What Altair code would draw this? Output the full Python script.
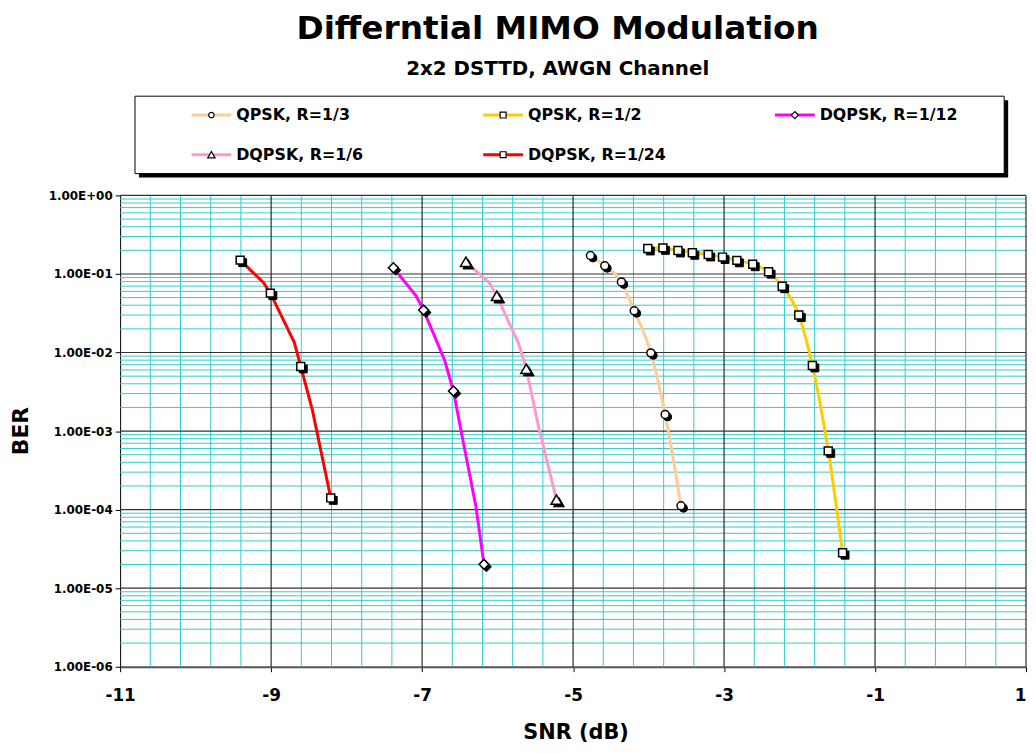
import altair as alt
import pandas as pd

# ---------------- data ----------------
series_names = ["QPSK, R=1/3", "QPSK, R=1/2", "DQPSK, R=1/12", "DQPSK, R=1/6", "DQPSK, R=1/24"]

qpsk13_snr = [-4.77, -4.58, -4.36, -4.19, -3.97, -3.78, -3.57]
qpsk13_ber = [0.172, 0.127, 0.0792, 0.034, 0.0099, 0.00163, 1.12e-4]
qpsk13_mark = [1, 1, 1, 1, 1, 1, 1]

qpsk12_snr = [-4.01, -3.81, -3.61, -3.42, -3.21, -3.02, -2.83, -2.62, -2.41, -2.23, -2.01, -1.83, -1.62, -1.43]
qpsk12_ber = [0.211, 0.215, 0.199, 0.186, 0.177, 0.164, 0.149, 0.133, 0.107, 0.0699, 0.030, 0.00685, 5.6e-4, 2.83e-5]
qpsk12_mark = [1] * 14

dqpsk112_snr = [-7.38, -7.08, -6.98, -6.70, -6.585, -6.46, -6.287, -6.18]
dqpsk112_ber = [0.120, 0.0527, 0.0347, 0.00792, 0.00324, 7.7e-4, 1.10e-4, 2.01e-5]
dqpsk112_mark = [1, 0, 1, 0, 1, 0, 0, 1]

dqpsk16_snr = [-6.42, -6.11, -6.01, -5.72, -5.62, -5.456, -5.22]
dqpsk16_ber = [0.143, 0.0776, 0.0527, 0.0129, 0.00621, 0.00113, 1.34e-4]
dqpsk16_mark = [1, 0, 1, 0, 1, 0, 1]

dqpsk124_snr = [-9.41, -9.10, -9.01, -8.693, -8.607, -8.453, -8.21]
dqpsk124_ber = [0.150, 0.0776, 0.057, 0.0135, 0.00665, 0.00185, 1.41e-4]
dqpsk124_mark = [1, 0, 1, 0, 1, 0, 1]

x_ticks = [-11, -9, -7, -5, -3, -1, 1]
y_ticks = [1e-6, 1e-5, 1e-4, 1e-3, 1e-2, 1e-1, 1]

# ---------------- styling ----------------
FONT = "DejaVu Sans"
colors = ["#FFCC99", "#FFCC00", "#FF00FF", "#FF99CC", "#FF0000"]
shapes = ["circle", "square", "diamond", "triangle-up", "square"]
msizes = [64, 64, 100, 121, 64]
lsizes = [30, 36, 50, 55, 36]
interps = ["monotone", "monotone", "linear", "linear", "linear"]

series_data = [
    (qpsk13_snr, qpsk13_ber, qpsk13_mark),
    (qpsk12_snr, qpsk12_ber, qpsk12_mark),
    (dqpsk112_snr, dqpsk112_ber, dqpsk112_mark),
    (dqpsk16_snr, dqpsk16_ber, dqpsk16_mark),
    (dqpsk124_snr, dqpsk124_ber, dqpsk124_mark),
]

W, H = 913, 475

exp_expr = "round(log(datum.value)/LN10)"
y_label_expr = ("'1.00E' + (" + exp_expr + " < 0 ? '-' : '+') + (abs(" + exp_expr +
                ") < 10 ? '0' : '') + abs(" + exp_expr + ")")

x_enc = alt.X(
    "snr:Q",
    scale=alt.Scale(domain=[-11, 1], nice=False, zero=False),
    axis=alt.Axis(
        values=x_ticks, labelExpr="'' + datum.value", grid=False,
        domainColor="#555555", domainWidth=2, tickColor="black", tickSize=5,
        labelFont=FONT, labelFontWeight="bold", labelFontSize=17, labelColor="black",
        labelPadding=16, labelFlush=False, labelOverlap=False,
        labelAlign={"condition": {"test": "datum.value === 1", "value": "right"}, "value": "center"},
        title="SNR (dB)", titleFont=FONT, titleFontWeight="bold", titleFontSize=21,
        titleColor="black", titleX=459, titleY=66, titleBaseline="middle", titleAlign="center",
    ),
)
y_enc = alt.Y(
    "ber:Q",
    scale=alt.Scale(type="log", domain=[1e-6, 1], nice=False),
    axis=alt.Axis(
        values=y_ticks, labelExpr=y_label_expr, grid=False,
        domainColor="black", domainWidth=1, tickColor="black", tickSize=5,
        labelFont=FONT, labelFontWeight="bold", labelFontSize=12, labelColor="black",
        labelPadding=3, labelFlush=False, labelOverlap=False,
        title="BER", titleFont=FONT, titleFontWeight="bold", titleFontSize=22,
        titleColor="black", titleX=-100, titleY=237, titleAngle=270,
        titleBaseline="middle", titleAlign="center",
    ),
)

# gridlines (layout, not data)
minor_x = [round(-11 + 0.4 * i, 1) for i in range(1, 30) if i % 5 != 0]
major_x = [-9, -7, -5, -3, -1, 1]
minor_y = [k * 10.0 ** e for e in range(-6, 0) for k in range(2, 10)]
major_y = [10.0 ** e for e in range(-5, 1)]

layers = []
layers.append(alt.Chart(pd.DataFrame({"snr": minor_x})).mark_rule(color="#33CCCC", strokeWidth=1).encode(x=x_enc))
layers.append(alt.Chart(pd.DataFrame({"ber": minor_y})).mark_rule(color="#33CCCC", strokeWidth=1).encode(y=y_enc))
layers.append(alt.Chart(pd.DataFrame({"snr": major_x})).mark_rule(color="black", strokeWidth=1).encode(x=x_enc))
layers.append(alt.Chart(pd.DataFrame({"ber": major_y})).mark_rule(color="#333333", strokeWidth=1.2).encode(y=y_enc))

# series
for i, (snr, ber, mark) in enumerate(series_data):
    df = pd.DataFrame({"snr": snr, "ber": ber, "mark": mark})
    dm = df[df["mark"] == 1]
    layers.append(alt.Chart(df).mark_line(color=colors[i], strokeWidth=3, interpolate=interps[i]).encode(x=x_enc, y=y_enc))
    layers.append(alt.Chart(dm).mark_point(shape=shapes[i], filled=True, fill="black", stroke="black",
                                           strokeWidth=1, size=msizes[i], opacity=1,
                                           xOffset=2.5, yOffset=2.5).encode(x=x_enc, y=y_enc))
    layers.append(alt.Chart(dm).mark_point(shape=shapes[i], filled=True, fill="white", stroke="black",
                                           strokeWidth=1.5, size=msizes[i], opacity=1).encode(x=x_enc, y=y_enc))

# legend box
one = pd.DataFrame({"a": [0]})
box = dict(x1=15, x2=891, y1=-100, y2=-22)
layers.append(alt.Chart(one).mark_rect(fill="black").encode(
    x=alt.value(box["x1"] + 4), x2=alt.value(box["x2"] + 4), y=alt.value(box["y1"] + 4), y2=alt.value(box["y2"] + 4)))
layers.append(alt.Chart(one).mark_rect(fill="white", stroke="black", strokeWidth=1).encode(
    x=alt.value(box["x1"]), x2=alt.value(box["x2"]), y=alt.value(box["y1"]), y2=alt.value(box["y2"])))

for i, name in enumerate(series_names):
    col, row = i % 3, i // 3
    lx = 72 + col * 294
    ly = -81 + row * 40
    layers.append(alt.Chart(one).mark_rule(color=colors[i], strokeWidth=3).encode(
        x=alt.value(lx), x2=alt.value(lx + 40), y=alt.value(ly)))
    layers.append(alt.Chart(one).mark_point(shape=shapes[i], filled=True, fill="white", stroke="black",
                                            strokeWidth=1.2, size=lsizes[i], opacity=1).encode(
        x=alt.value(lx + 20), y=alt.value(ly)))
    layers.append(alt.Chart(one).mark_text(text=name, align="left", baseline="middle", font=FONT,
                                           fontWeight="bold", fontSize=16, color="black").encode(
        x=alt.value(lx + 45), y=alt.value(ly)))

# titles
layers.append(alt.Chart(one).mark_text(text="Differntial MIMO Modulation", align="center", baseline="middle",
                                       font=FONT, fontWeight="bold", fontSize=33, color="black").encode(
    x=alt.value(441), y=alt.value(-168)))
layers.append(alt.Chart(one).mark_text(text="2x2 DSTTD, AWGN Channel", align="center", baseline="middle",
                                       font=FONT, fontWeight="bold", fontSize=20, color="black").encode(
    x=alt.value(441), y=alt.value(-127)))

chart = alt.layer(*layers).properties(
    width=W, height=H,
    autosize=alt.AutoSizeParams(type="none"),
    padding={"left": 113, "top": 186, "right": 2, "bottom": 76},
    background="white",
).configure_view(stroke=None)

chart.save("out.html", embed_options={"renderer": "svg", "actions": False})
